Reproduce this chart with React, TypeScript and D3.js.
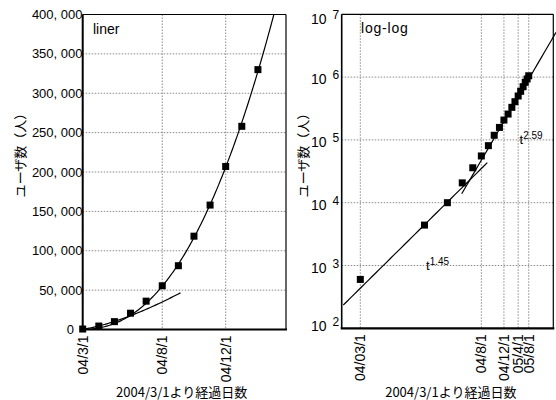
import React from 'react';
import * as d3 from 'd3';

const W = 556;
const H = 400;

// ---- data (days since 2004/3/1, users) ----
const dayOffsets = [0, 31, 61, 92, 122, 153, 184, 214, 245, 275, 306, 337, 365, 396, 422, 449, 474, 497, 518];
const users = [600, 4400, 10000, 20700, 36000, 55500, 81000, 118500, 158000, 207000, 258000, 330000, 406000, 500000, 594000, 703000, 826000, 933000, 1050000];

const linTickDays = [0, 153, 275];
const linTickLabels = ['04/3/1', '04/8/1', '04/12/1'];
const logTickDays = [0, 153, 275, 396, 518];
const logTickLabels = ['04/03/1', '04/8/1', '04/12/1', '05/4/1', '05/8/1'];
const linYTicks = [0, 50000, 100000, 150000, 200000, 250000, 300000, 350000, 400000];
const logYExps = [2, 3, 4, 5, 6, 7];

// log-x axis plots (days + offset)
const T_OFFSET = 7.8;

// power-law fits: v = 10^logA * (day + T_OFFSET)^k
const fitEarly = { k: 1.45, logA: 1.3447, label: '1.45' };
const fitLateLin = { k: 2.34, logA: -0.4224 };
const fitLateLog = { k: 2.51, logA: -0.8608, label: '2.59' };

const LAT = "'Liberation Sans', Arial, sans-serif";
const JP = "'Noto Sans CJK JP', sans-serif";

const fitVal = (f: { k: number; logA: number }, day: number) =>
  Math.pow(10, f.logA + f.k * Math.log10(day + T_OFFSET));

const fmt = (v: number) => d3.format(',')(v).replace(/,/g, ', ');

const GRID = { stroke: '#8a8a8a', strokeWidth: 1, strokeDasharray: '1.5,1.5' };

function LinearPanel() {
  const x = d3.scaleLinear([0, 391], [82.7, 286]);
  const y = d3.scaleLinear([0, 400000], [329.5, 14.5]);
  const [x0, x1] = x.range();
  const [yb, yt] = y.range();
  const line = d3.line<number>().x(d => x(d)).y(d => y(d[1] as any));
  const early = d3.range(0, 188.01, 2).map(d => [x(d), y(fitVal(fitEarly, d))] as [number, number]);
  const late = d3.range(0, 391.01, 2).map(d => [x(d), y(fitVal(fitLateLin, d))] as [number, number]);
  const pathGen = d3.line();
  const pts = dayOffsets.map((d, i) => ({ d, v: users[i] })).filter(p => p.v <= 400000);
  return (
    <g>
      <defs>
        <clipPath id="clipLin">
          <rect x={x0} y={yt} width={x1 - x0} height={yb - yt} />
        </clipPath>
      </defs>
      {linYTicks.slice(1, -1).map(t => (
        <line key={t} x1={x0} x2={x1} y1={y(t)} y2={y(t)} {...GRID} />
      ))}
      {linTickDays.map(t => (
        <line key={t} x1={x(t)} x2={x(t)} y1={yt} y2={yb} {...GRID} />
      ))}
      <g clipPath="url(#clipLin)" fill="none" stroke="#000" strokeWidth={1.2}>
        <path d={pathGen(early) || ''} />
        <path d={pathGen(late) || ''} />
      </g>
      {/* frame */}
      <line x1={x0} x2={x1} y1={yt} y2={yt} stroke="#000" strokeWidth={1.2} />
      <line x1={x1} x2={x1} y1={yt} y2={yb} stroke="#000" strokeWidth={1.2} />
      <line x1={x0} x2={x0} y1={yt} y2={yb} stroke="#000" strokeWidth={2} />
      <line x1={x0 - 1} x2={x1 + 1} y1={yb} y2={yb} stroke="#000" strokeWidth={2.2} />
      {pts.map(p => (
        <rect key={p.d} x={x(p.d) - 3.5} y={y(p.v) - 3.5} width={7} height={7} fill="#000" />
      ))}
      {linYTicks.map(t => (
        <text key={t} x={t === 0 ? 74 : 82.5} y={y(t) + 4.5} textAnchor="end" fontFamily={LAT} fontSize={13} fill="#000">
          {fmt(t)}
        </text>
      ))}
      {linTickDays.map((t, i) => (
        <text key={t} transform={`translate(${x(t) + 5},${yb + 6}) rotate(-90)`} textAnchor="end" fontFamily={LAT} fontSize={14} fill="#000">
          {linTickLabels[i]}
        </text>
      ))}
      <text x={93} y={34} fontFamily={LAT} fontSize={14} fill="#000">liner</text>
      <text transform={`translate(25,152) rotate(-90)`} textAnchor="middle" fontFamily={JP} fontSize={13} fill="#000">ユーザ数（人）</text>
      <text x={181.7} y={397} textAnchor="middle" fontFamily={JP} fontSize={13} fill="#000">2004/3/1より経過日数</text>
    </g>
  );
}

function LogPanel() {
  const x = d3.scaleLog([4.898, 971.8], [341.7, 553.3]);
  const y = d3.scaleLog([1e2, 1e7], [328.3, 14.3]);
  const [x0, x1] = x.range();
  const [yb, yt] = y.range();
  const pathGen = d3.line();
  const earlyT = d3.range(0, 41).map(i => 5.1 * Math.pow(186.6 / 5.1, i / 40));
  const lateT = d3.range(0, 41).map(i => 98.4 * Math.pow(1040 / 98.4, i / 40));
  const early = earlyT.map(t => [x(t), y(fitVal(fitEarly, t - T_OFFSET))] as [number, number]);
  const late = lateT.map(t => [x(t), y(fitVal(fitLateLog, t - T_OFFSET))] as [number, number]);
  return (
    <g>
      {logYExps.slice(1, -1).map(e => (
        <line key={e} x1={x0} x2={x1} y1={y(Math.pow(10, e))} y2={y(Math.pow(10, e))} {...GRID} />
      ))}
      {logTickDays.map(t => (
        <line key={t} x1={x(t + T_OFFSET)} x2={x(t + T_OFFSET)} y1={yt} y2={yb} {...GRID} />
      ))}
      <g fill="none" stroke="#000" strokeWidth={1.2}>
        <path d={pathGen(early) || ''} />
        <path d={pathGen(late) || ''} />
      </g>
      <line x1={x0} x2={x1} y1={yt} y2={yt} stroke="#000" strokeWidth={1.2} />
      <line x1={x1} x2={x1} y1={yt} y2={yb} stroke="#000" strokeWidth={1.2} />
      <line x1={x0} x2={x0} y1={yt} y2={yb} stroke="#000" strokeWidth={1.6} />
      <line x1={x0 - 1} x2={x1 + 1} y1={yb} y2={yb} stroke="#000" strokeWidth={2.2} />
      {dayOffsets.map((d, i) => (
        <rect key={d} x={x(d + T_OFFSET) - 3.5} y={y(users[i]) - 3.5} width={7} height={7} fill="#000" />
      ))}
      {logYExps.map(e => {
        const ty = y(Math.pow(10, e));
        const base = Math.min(331, Math.max(24, ty + 7));
        return (
          <g key={e} fontFamily={LAT} fill="#000">
            <text x={326.5} y={base} textAnchor="end" fontSize={14}>10</text>
            <text x={332.5} y={base - 5} fontSize={12}>{e}</text>
          </g>
        );
      })}
      {logTickDays.map((t, i) => (
        <text key={t} transform={`translate(${x(t + T_OFFSET) + 5},${yb + 6}) rotate(-90)`} textAnchor="end" fontFamily={LAT} fontSize={14} fill="#000">
          {logTickLabels[i]}
        </text>
      ))}
      <text x={426} y={270} fontFamily={LAT} fontSize={13} fill="#000">
        t<tspan dy={-5} fontSize={10}>{fitEarly.label}</tspan>
      </text>
      <text x={519.5} y={144} fontFamily={LAT} fontSize={13} fill="#000">
        t<tspan dy={-5} fontSize={10}>{fitLateLog.label}</tspan>
      </text>
      <text x={361} y={33} fontFamily={LAT} fontSize={14} letterSpacing={0.8} fill="#000">log-log</text>
      <text transform={`translate(308,152) rotate(-90)`} textAnchor="middle" fontFamily={JP} fontSize={13} fill="#000">ユーザ数（人）</text>
      <text x={450.8} y={397} textAnchor="middle" fontFamily={JP} fontSize={13} fill="#000">2004/3/1より経過日数</text>
    </g>
  );
}

export default function App() {
  return (
    <svg width={W} height={H} viewBox={`0 0 ${W} ${H}`} style={{ position: 'absolute', left: 0, top: 0, background: '#fff' }}>
      <rect width={W} height={H} fill="#fff" />
      <LinearPanel />
      <LogPanel />
    </svg>
  );
}
